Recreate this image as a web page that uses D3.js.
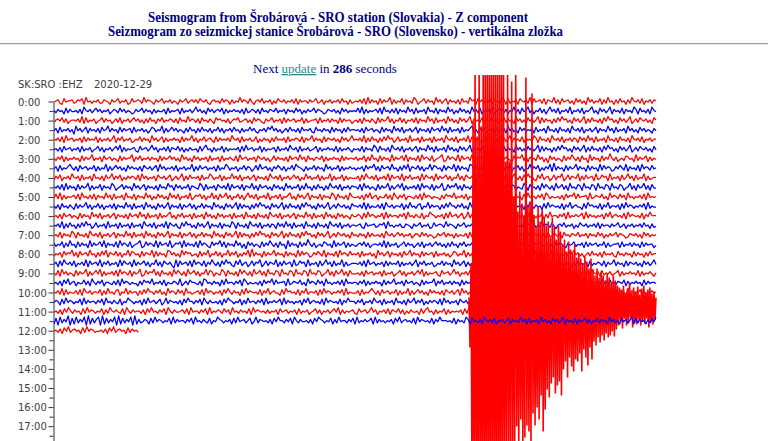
<!DOCTYPE html>
<html><head><meta charset="utf-8">
<script src="https://cdn.jsdelivr.net/npm/d3@7"></script>
<style>body{margin:0;background:#fff;overflow:hidden}</style>
</head><body><svg id="c" width="768" height="441"></svg>
<script>
// ---------- data ----------
const titleLines = [
  "Seismogram from Šrobárová - SRO station (Slovakia) - Z component",
  "Seizmogram zo seizmickej stanice Šrobárová - SRO (Slovensko) - vertikálna zložka"
];
const stationLabel = "SK:SRO :EHZ";
const dateLabel = "2020-12-29";
const nextUpdateSeconds = 286;
const hourLabels = ["0:00","1:00","2:00","3:00","4:00","5:00","6:00","7:00","8:00","9:00",
  "10:00","11:00","12:00","13:00","14:00","15:00","16:00","17:00"];
// start hour of each 30-minute trace
const traceStartHours = [0,0.5,1,1.5,2,2.5,3,3.5,4,4.5,5,5.5,6,6.5,7,7.5,8,8.5,9,9.5,10,10.5,11,11.5,12];
// minutes of normal record in each trace (11:00 switches to the quake record, 12:00 is partial)
const traceEndMinutes = [30,30,30,30,30,30,30,30,30,30,30,30,30,30,30,30,30,30,30,30,30,30,20.68,30,4.2];
// noise samples, one digit per sample (counts offset, 4.5 = baseline)
const traceNoise = [
"4563274556 3465728453 5463365426 4573546237 4565384654 2645735463 5426457356 4637546325 6453746526 3548465374 2564735462 5375463546 3726455364 5734625463 5463745263 4 5463728364 5273645826 3547264538 6245736452 8463572645 3627453856 2746354726 5438627354 6275463827 4563726548 3627456352 7463528463 5472638452 6374526385 4637254636 5",
"5364527364 4536285463 5746354624 6537463542 3645736452 6354462735 4562735463 5846352746 3564726354 6453627346 5362745365 4735462645 3746253645 7365423654 6352746354 5 4738263545 6372845363 7264538462 7354628453 7264538462 5374635284 6372546382 4657362548 3627458362 5473625846 3725463825 4637254683 5274635826 4537264538 6274536285 4",
"3564736245 5463827354 6245736452 4637254635 7463526374 5264735465 3627453846 5362745364 2756453624 6573456352 7465326457 3546273645 6354726345 5627354636 4527364552 4 5362745364 2736458362 5473625463 7264538462 7354628463 5274635826 4537264573 6254736452 8463527463 5827364526 3748563527 4635826374 5362748563 5274635824 6375463527 5",
"4627354635 1846357264 5362745836 4527364562 7354635247 6354826357 4635426374 5263745362 5473625463 7452635474 6325463758 4635246374 5362745463 2745364527 3645263745 5 4536274563 5427364528 4637254635 7264536274 5638462735 4627354683 5264735462 7354628463 5274635462 7354628453 6274536285 4637254635 7264538462 7354628463 5274635426 4",
"5463728456 3546273645 4726354635 8264735462 3547364528 4635726354 6452736458 3625473564 2736454638 5462735463 4725364526 3745462735 4653726458 3645273654 6352746358 4 5463826374 5263748562 4735462835 4627354627 3546285463 7254638275 4632748563 5274635826 4537264538 6274536285 4637254636 5274638462 7354628453 6274536285 4637254635 5",
"4536274563 5462735462 4573625463 5748263545 6327456358 4625463726 5473625364 4527368452 6354726354 5462738456 3547263545 6273546385 4627354634 5726354645 3726354642 5 4537264538 6274536285 4637254635 7264538462 7354628463 5274635826 4537264573 6254736452 8463527463 5827364526 3748563527 4635826374 5362748563 5274635824 6375463527 4",
"5364726354 6452736458 3546274563 5427364558 2647354636 4527364574 6352846352 7463546273 5462735464 3728456354 6275463524 7364536274 5638462745 3654726354 6452736455 4 6354726384 5273645283 6457382645 3728465372 4568237465 3827456382 4657283645 3728465327 4658372645 3846251746 3542736485 3627451836 4527364953 6245376452 8364572635 4",
"4627354685 3627456354 7263548263 5746352746 4536275463 5728463546 3725463548 2637456354 6273548635 4625473652 4738456352 6475362547 3865426354 7364528463 5472635464 5 3546274658 3627456384 5263748265 4736254837 6452736548 2736452874 6352847563 4527364825 4736254836 4725364829 3645273645 8364527364 5283746523 6475382645 3728465374 5",
"3647254638 5462735462 8453627458 3647253646 5372846354 6275463572 4635826374 5462735486 3547263548 4637254635 7264536285 4637254635 7462538463 5472635482 6354726354 4 4627385463 7254638274 5638264735 4628375462 8364573625 4836275463 1827456372 8465372648 5362748563 2748356247 3658247365 4826374562 8347562835 4627358462 7354826345 5",
"5463728364 5273645826 3547264538 6245736452 8463572645 3627453856 2746354726 5438627354 6275463827 4563726548 3627456352 7463528463 5472638452 6374526385 4637254636 5 5372846354 2736458263 5748263546 3728465372 6458237465 8362745362 8475362845 7362548376 2543862745 3628475362 8457362845 3762845376 2845376284 5376245836 2745836274 4",
"4738263545 6372845363 7264538462 7354628453 7264538462 5374635284 6372546382 4657362548 3627458362 5473625846 3725463825 4637254683 5274635826 4537264538 6274536285 4 4536274835 6254473628 5364725543 6372846535 4426375648 3546372544 6538246375 5436287453 6452738455 3647286354 4536274658 3745562834 6547352846 5374628453 5463728454 5",
"5362745364 2736458362 5473625463 7264538462 7354628463 5274635826 4537264573 6254736452 8463527463 5827364526 3748563527 4635826374 5362748563 5274635824 6375463527 5 5463827354 4637285463 5547263845 3672548364 5526374855 3647352846 5374628453 4563728465 3546274853 6452738465 4537264835 6442738564 5372648355 4627384653 5464728354 4",
"4536274563 5427364528 4637254635 7264536274 5638462735 4627354683 5264735462 7354628463 5274635462 7354628453 6274536285 4637254635 7264538462 7354628463 5274635426 4 4652738465 3547283645 5364728453 6437254865 3546273845 6357248365 4536274855 3647285364 4536274865 3547263845 5364728354 6457283645 3546274835 6453728465 4537264855 5",
"5463826374 5263748562 4735462835 4627354627 3546285463 7254638275 4632748563 5274635826 4537264538 6274536285 4637254636 5274638462 7354628453 6274536285 4637254635 5 4563274556 3465728453 5463365426 4573546237 4565384654 2645735463 5426457356 4637546325 6453746526 3548465374 2564735462 5375463546 3726455364 5734625463 5463745263 4",
"4537264538 6274536285 4637254635 7264538462 7354628463 5274635826 4537264573 6254736452 8463527463 5827364526 3748563527 4635826374 5362748563 5274635824 6375463527 4 5364527364 4536285463 5746354624 6537463542 3645736452 6354462735 4562735463 5846352746 3564726354 6453627346 5362745365 4735462645 3746253645 7365423654 6352746354 5",
"6354726384 5273645283 6457382645 3728465372 4568237465 3827456382 4657283645 3728465327 4658372645 3846251746 3542736485 3627451836 4527364953 6245376452 8364572635 4 3564736245 5463827354 6245736452 4637254635 7463526374 5264735465 3627453846 5362745364 2756453624 6573456352 7465326457 3546273645 6354726345 5627354636 4527364552 4",
"3546274658 3627456384 5263748265 4736254837 6452736548 2736452874 6352847563 4527364825 4736254836 4725364829 3645273645 8364527364 5283746523 6475382645 3728465374 5 4627354635 1846357264 5362745836 4527364562 7354635247 6354826357 4635426374 5263745362 5473625463 7452635474 6325463758 4635246374 5362745463 2745364527 3645263745 5",
"4627385463 7254638274 5638264735 4628375462 8364573625 4836275463 1827456372 8465372648 5362748563 2748356247 3658247365 4826374562 8347562835 4627358462 7354826345 5 5463728456 3546273645 4726354635 8264735462 3547364528 4635726354 6452736458 3625473564 2736454638 5462735463 4725364526 3745462735 4653726458 3645273654 6352746358 4",
"5372846354 2736458263 5748263546 3728465372 6458237465 8362745362 8475362845 7362548376 2543862745 3628475362 8457362845 3762845376 2845376284 5376245836 2745836274 4 4536274563 5462735462 4573625463 5748263545 6327456358 4625463726 5473625364 4527368452 6354726354 5462738456 3547263545 6273546385 4627354634 5726354645 3726354642 5",
"4536274835 6254473628 5364725543 6372846535 4426375648 3546372544 6538246375 5436287453 6452738455 3647286354 4536274658 3745562834 6547352846 5374628453 5463728454 5 5364726354 6452736458 3546274563 5427364558 2647354636 4527364574 6352846352 7463546273 5462735464 3728456354 6275463524 7364536274 5638462745 3654726354 6452736455 4",
"5463827354 4637285463 5547263845 3672548364 5526374855 3647352846 5374628453 4563728465 3546274853 6452738465 4537264835 6442738564 5372648355 4627384653 5464728354 4 4627354685 3627456354 7263548263 5746352746 4536275463 5728463546 3725463548 2637456354 6273548635 4625473652 4738456352 6475362547 3865426354 7364528463 5472635464 5",
"4652738465 3547283645 5364728453 6437254865 3546273845 6357248365 4536274855 3647285364 4536274865 3547263845 5364728354 6457283645 3546274835 6453728465 4537264855 5 3647254638 5462735462 8453627458 3647253646 5372846354 6275463572 4635826374 5462735486 3547263548 4637254635 7264536285 4637254635 7462538463 5472635482 6354726354 4",
"4536274853 6452738465 3547263854 6437285364 5536274845 3647285364 4563728455 3647283546 5374628453 6453728465 4536 3546274563 5462735462 4573625463 5748263545 6327456358 4625463726 5473625364 4527368452 6354726354 5462738",
"2718364917 2836481927 3681927364 8192736481 9263 4652738465 3547283645 5364728453 6437254865 3546273845 6357248365 4536274855 3647285364 4536274865 3547263845 5364728354 6457283645 3546274835 6453728465 4537264855 5 4537264538 6274536285 4637254635 7264538462 7354628463 5274635826 4537264573 6254736452 8463527463 5827364526 3748",
"4536274835 6452738465 3445362748 3564527364 53"
];
// quake record on the 11:00 trace (pixels of deflection), starting at minute 20.68
const quakeStartMinute = 20.68;
const quakeSamples = [
  14,-36,48,
  -180,190,-200,250,-195,175,-205,240,-190,185,-200,255,-205,
  250,-205,255,-200,245,-205,250,-195,255,-205,245,-200,250,-195,240,-205,255,-180,245,
  -180,150,-140,240,-165,150,-130,230,-155,
  115,-132,240,-115,100,-138,120,-108,108,-130,96,-126,234,-114,105,-120,110,-132,
  218,-102,96,-114,84,-96,105,-108,90,-84,102,-120,94,-98,86,
  -78,90,-86,74,-72,94,-66,84,-82,72,-74,86,-70,80,-84,
  66,-58,72,-50,60,-66,70,-46,62,-55,58,-60,67,-48,54,
  -50,58,-42,53,-60,48,-38,55,-46,50,-54,43,-36,53,-48,
  42,-30,36,-34,43,-26,34,-31,40,-24,36,-29,31,-22,38,-26,34,-24,29,-20,36,-25,31,-18,26,
  -14,24,-10,22,-17,26,-7,18,-14,23,-12,29,-6,19,-16,24,-11,20,-13,25,-8,17,-14,23,-10,26,-12,19,-7,22,-16,24,-11,18,-13,20,-8,14
];

// ---------- drawing ----------
const svg = d3.select("#c");
const W = 768, H = 441;
const navy = "#000080";

// header
const t = svg.append("g").attr("font-family", "'Liberation Serif', 'Times New Roman', serif")
  .attr("font-weight", "bold").attr("fill", navy).attr("font-size", 14);
t.append("text").attr("x", 148).attr("y", 22).attr("textLength", 380)
  .attr("lengthAdjust", "spacingAndGlyphs").text(titleLines[0]);
t.append("text").attr("x", 108).attr("y", 36).attr("textLength", 455)
  .attr("lengthAdjust", "spacingAndGlyphs").text(titleLines[1]);

svg.append("rect").attr("x", 0).attr("y", 43).attr("width", W).attr("height", 1).attr("fill", "#9c9c9c");
svg.append("rect").attr("x", 0).attr("y", 44).attr("width", W).attr("height", 1).attr("fill", "#e6e6e6");

const nu = svg.append("text").attr("x", 253).attr("y", 73)
  .attr("font-family", "'Liberation Serif', 'Times New Roman', serif").attr("font-size", 13).attr("fill", navy);
nu.append("tspan").text("Next ");
nu.append("tspan").attr("fill", "#2a8a8a").attr("text-decoration", "underline").text("update");
nu.append("tspan").text(" in ");
nu.append("tspan").attr("font-weight", "bold").text(String(nextUpdateSeconds));
nu.append("tspan").text(" seconds");

const lab = svg.append("g").attr("font-family", "'DejaVu Sans', sans-serif").attr("font-size", 10).attr("fill", "#404040");
lab.append("text").attr("x", 18).attr("y", 88).text(stationLabel);
lab.append("text").attr("x", 94).attr("y", 88).text(dateLabel);

// scales
const x = d3.scaleLinear().domain([0, 30]).range([54, 656]);
const y = d3.scaleLinear().domain([0, 18]).range([101.5, 101.5 + 18 * 19.1]);
const amp = d3.scaleLinear().domain([-1, 1]).range([1.15, -1.15]);

// axis
const majorAxis = d3.axisLeft(y).tickValues(d3.range(0, hourLabels.length))
  .tickFormat(i => hourLabels[i]).tickSize(5).tickSizeOuter(0);
const minorAxis = d3.axisLeft(y).tickValues(d3.range(0.5, 18, 1)).tickFormat("").tickSize(4).tickSizeOuter(0);
const ga = svg.append("g").attr("transform", "translate(53.5,0)").call(majorAxis);
const gm = svg.append("g").attr("transform", "translate(53.5,0)").call(minorAxis);
gm.select(".domain").remove();
[ga, gm].forEach(g => g.selectAll("line").attr("stroke", "#333"));
ga.select(".domain").attr("stroke", "#333");
ga.selectAll("text").attr("x", 18 - 53.5).attr("text-anchor", "start").attr("dy", "0.35em")
  .attr("font-family", "'DejaVu Sans', sans-serif").attr("font-size", 10).attr("fill", "#404040");

// traces
svg.append("clipPath").attr("id", "clip").append("rect")
  .attr("x", 54).attr("y", 75).attr("width", W - 54).attr("height", H - 75);
const plot = svg.append("g").attr("clip-path", "url(#clip)");

const ampNoise = d => amp(d - 4.5);
traceStartHours.forEach((h, k) => {
  const digits = traceNoise[k].replace(/\s/g, "").split("").map(Number);
  const n = digits.length;
  const end = traceEndMinutes[k];
  const pts = digits.map((d, i) => [i * end / (n - 1), ampNoise(d)]);
  const color = k % 2 === 0 ? "#ff0000" : "#0000ff";
  const line = d3.line().x(p => x(p[0])).y(p => y(h) + p[1]);
  plot.append("path").attr("d", line(pts)).attr("fill", "none")
    .attr("stroke", color).attr("stroke-width", 1.25).attr("stroke-linejoin", "round");
  if (h === 11) {
    const m = quakeSamples.length;
    const q = [pts[pts.length - 1]].concat(quakeSamples.map((v, i) =>
      [quakeStartMinute + i * (30 - quakeStartMinute) / (m - 1), -v]));
    plot.append("path").attr("d", line(q)).attr("fill", "none")
      .attr("stroke", color).attr("stroke-width", 1.6).attr("stroke-linejoin", "bevel");
  }
});
</script></body></html>
